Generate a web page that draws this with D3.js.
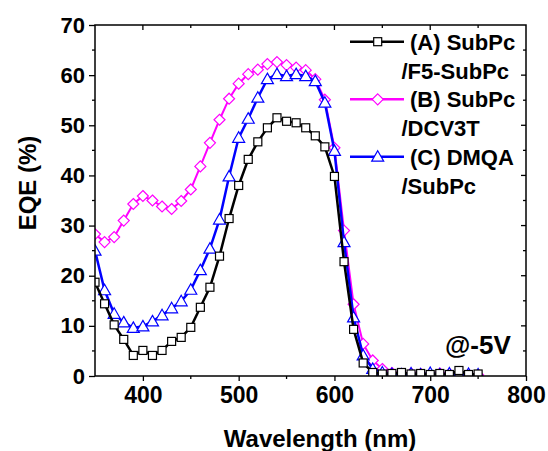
<!DOCTYPE html>
<html>
<head>
<meta charset="utf-8">
<script src="https://cdn.jsdelivr.net/npm/d3@7"></script>
<style>
body{margin:0;background:#fff;}
svg{display:block;font-family:"Liberation Sans",Arial,sans-serif;font-weight:bold;}
</style>
</head>
<body>
<svg id="c" width="548" height="451"></svg>
<script>
const wavelengths = d3.range(350, 751, 10);
const seriesA = [18.7,14.4,10.2,7.3,4.1,5.1,4.1,5.1,6.9,7.7,9.7,13.7,17.7,23.9,31.4,38.0,43.2,46.7,49.5,51.5,50.8,50.5,49.5,47.9,45.7,39.8,22.8,9.3,2.6,0.7,0.4,0.5,0.7,0.4,0.5,0.3,0.5,0.3,1.1,0.3,0.4];
const seriesB = [28.3,26.7,27.7,31.0,34.3,35.9,35.0,33.8,33.3,34.9,37.2,41.8,46.5,51.1,55.3,58.3,60.2,61.1,62.2,62.6,62.0,61.5,61.0,59.2,55.1,45.5,29.0,14.3,6.4,3.1,1.4,0.6,0.4,0.5,0.4,0.3,0.5,0.4,0.5,0.3,0.2];
const seriesC = [25.0,17.1,12.4,10.7,9.6,9.9,10.9,12.1,13.5,14.9,17.2,21.1,25.4,31.2,39.8,47.5,51.3,55.5,59.2,60.2,59.8,60.2,59.8,58.8,54.5,44.9,26.7,11.7,4.1,1.4,0.7,0.4,0.3,0.5,0.3,0.6,0.3,0.5,0.3,0.4,0.3];
const legendLines1 = ["(A) SubPc","(B) SubPc","(C) DMQA"];
const legendLines2 = ["/F5-SubPc","/DCV3T","/SubPc"];
const xTicks = [400,500,600,700,800];
const yTicks = [0,10,20,30,40,50,60,70];

const svg = d3.select("#c");
const L=95, R=526, T=25, B=376;
const x = d3.scaleLinear().domain([350,800]).range([L,R]);
const y = d3.scaleLinear().domain([0,70]).range([B,T]);

svg.append("defs").append("clipPath").attr("id","clip")
  .append("rect").attr("x",L).attr("y",T).attr("width",R-L).attr("height",B-T);

// bottom axis
const xAxis = d3.axisBottom(x).tickValues(xTicks).tickSize(5).tickPadding(6).tickFormat(d3.format("d"));
const gx = svg.append("g").attr("transform",`translate(0,${B})`).call(xAxis);
gx.select(".domain").remove();
gx.selectAll("line").attr("stroke-width",1.3);
gx.selectAll("text").attr("font-size",23).attr("font-weight","bold").attr("fill","#000").attr("font-family","Liberation Sans, Arial, sans-serif");
svg.append("g").selectAll("line").data([450,550,650,750]).join("line")
  .attr("x1",d=>x(d)).attr("x2",d=>x(d)).attr("y1",B).attr("y2",B+3).attr("stroke","#000").attr("stroke-width",1.3);
svg.append("g").selectAll("line").data(d3.range(400,800,50)).join("line")
  .attr("x1",d=>x(d)).attr("x2",d=>x(d)).attr("y1",T).attr("y2",d=>T+(d%100===0?5:3)).attr("stroke","#000").attr("stroke-width",1.3);

// left axis
const yAxis = d3.axisLeft(y).tickValues(yTicks).tickSize(6).tickPadding(4);
const gy = svg.append("g").attr("transform",`translate(${L},0)`).call(yAxis);
gy.select(".domain").remove();
gy.selectAll("line").attr("stroke-width",1.3);
gy.selectAll("text").attr("font-size",22).attr("font-weight","bold").attr("fill","#000").attr("font-family","Liberation Sans, Arial, sans-serif");
svg.append("g").selectAll("line").data(d3.range(5,70,10)).join("line")
  .attr("x1",L-3).attr("x2",L).attr("y1",d=>y(d)).attr("y2",d=>y(d)).attr("stroke","#000").attr("stroke-width",1.3);
svg.append("g").selectAll("line").data(d3.range(5,70,5)).join("line")
  .attr("x1",d=>R-(d%10===0?5:3)).attr("x2",R).attr("y1",d=>y(d)).attr("y2",d=>y(d)).attr("stroke","#000").attr("stroke-width",1.3);

// titles
svg.append("text").attr("x",320).attr("y",447).attr("text-anchor","middle").attr("font-size",24).text("Wavelength (nm)");
svg.append("text").attr("transform","translate(36,183) rotate(-90)").attr("text-anchor","middle").attr("font-size",24).text("EQE (%)");

function marker(g, type, cx, cy, color){
  if(type==="square"){
    g.append("rect").attr("x",cx-4).attr("y",cy-4).attr("width",8).attr("height",8)
      .attr("fill","#fff").attr("stroke",color).attr("stroke-width",1.2);
  } else if(type==="diamond"){
    g.append("path").attr("d",`M${cx},${cy-5.5}L${cx+5.5},${cy}L${cx},${cy+5.5}L${cx-5.5},${cy}Z`)
      .attr("fill","#fff").attr("stroke",color).attr("stroke-width",1.2);
  } else {
    g.append("path").attr("d",`M${cx},${cy-6}L${cx+6},${cy+4.5}L${cx-6},${cy+4.5}Z`)
      .attr("fill","#fff").attr("stroke",color).attr("stroke-width",1.2);
  }
}
const series = [
  {vals:seriesB,color:"#ff00ff",type:"diamond",w:2},
  {vals:seriesC,color:"#0000ff",type:"triangle",w:2.5},
  {vals:seriesA,color:"#000000",type:"square",w:2.5}
];
const line = d3.line().x(d=>x(d[0])).y(d=>y(d[1]));
const plot = svg.append("g").attr("clip-path","url(#clip)");
series.forEach(s=>{
  const pts = wavelengths.map((w,i)=>[w,s.vals[i]]);
  plot.append("path").datum(pts).attr("d",line).attr("fill","none").attr("stroke",s.color).attr("stroke-width",s.w);
  const g = plot.append("g");
  pts.forEach(p=>marker(g,s.type,x(p[0]),y(p[1]),s.color));
});

// frame
svg.append("rect").attr("x",L).attr("y",T).attr("width",R-L).attr("height",B-T)
  .attr("fill","none").attr("stroke","#000").attr("stroke-width",1.5);

// legend
const legSeries = [
  {color:"#000000",type:"square",w:2.5,ly:41.7},
  {color:"#ff00ff",type:"diamond",w:2.5,ly:99.3},
  {color:"#0000ff",type:"triangle",w:2.5,ly:156.7}
];
legSeries.forEach((s,i)=>{
  svg.append("line").attr("x1",350).attr("x2",404).attr("y1",s.ly).attr("y2",s.ly).attr("stroke",s.color).attr("stroke-width",s.w);
  marker(svg,s.type,377.7,s.ly,s.color);
  svg.append("text").attr("x",410).attr("y",s.ly+7.8).attr("font-size",22).text(legendLines1[i]);
  svg.append("text").attr("x",401.5).attr("y",s.ly+37).attr("font-size",22).text(legendLines2[i]);
});
svg.append("text").attr("x",445).attr("y",353.5).attr("font-size",26).text("@-5V");
</script>
</body>
</html>
